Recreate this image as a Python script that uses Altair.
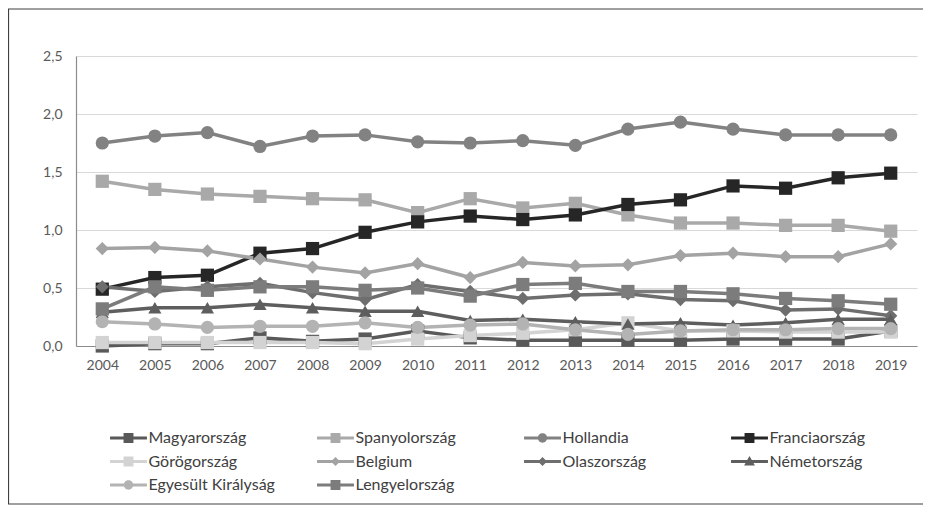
import altair as alt
import pandas as pd

years = [str(y) for y in range(2004, 2020)]

countries = ["Magyarország", "Spanyolország", "Hollandia", "Franciaország",
             "Görögország", "Belgium", "Olaszország", "Németország",
             "Egyesült Királyság", "Lengyelország"]

magyar = [0.00, 0.02, 0.02, 0.07, 0.04, 0.06, 0.13, 0.07, 0.05, 0.05, 0.05, 0.05, 0.06, 0.06, 0.06, 0.13]
spanyol = [1.42, 1.35, 1.31, 1.29, 1.27, 1.26, 1.15, 1.27, 1.19, 1.23, 1.13, 1.06, 1.06, 1.04, 1.04, 0.99]
holland = [1.75, 1.81, 1.84, 1.72, 1.81, 1.82, 1.76, 1.75, 1.77, 1.73, 1.87, 1.93, 1.87, 1.82, 1.82, 1.82]
francia = [0.49, 0.59, 0.61, 0.80, 0.84, 0.98, 1.07, 1.12, 1.09, 1.13, 1.22, 1.26, 1.38, 1.36, 1.45, 1.49]
gorog = [0.03, 0.03, 0.03, 0.03, 0.03, 0.02, 0.06, 0.09, 0.11, 0.14, 0.20, 0.13, 0.13, 0.12, 0.12, 0.12]
belgium = [0.84, 0.85, 0.82, 0.75, 0.68, 0.63, 0.71, 0.59, 0.72, 0.69, 0.70, 0.78, 0.80, 0.77, 0.77, 0.88]
olasz = [0.51, 0.47, 0.51, 0.54, 0.46, 0.40, 0.53, 0.47, 0.41, 0.44, 0.45, 0.40, 0.39, 0.31, 0.32, 0.26]
nemet = [0.29, 0.33, 0.33, 0.36, 0.33, 0.30, 0.30, 0.22, 0.23, 0.21, 0.19, 0.20, 0.18, 0.20, 0.23, 0.23]
ek = [0.21, 0.19, 0.16, 0.17, 0.17, 0.20, 0.16, 0.18, 0.19, 0.14, 0.10, 0.13, 0.14, 0.14, 0.15, 0.15]
lengyel = [0.32, 0.51, 0.48, 0.51, 0.51, 0.48, 0.50, 0.43, 0.53, 0.54, 0.47, 0.47, 0.45, 0.41, 0.39, 0.36]

series = [magyar, spanyol, holland, francia, gorog, belgium, olasz, nemet, ek, lengyel]

colors = ["#595959", "#a9a9a9", "#828282", "#262626", "#d3d3d3",
          "#a3a3a3", "#6e6e6e", "#5e5e5e", "#b3b3b3", "#7c7c7c"]
shapes = ["square", "square", "circle", "square", "square",
          "diamond", "diamond", "triangle-up", "circle", "square"]

LINE = "M-2.05,-0.17H2.05V0.17H-2.05Z"
MK = {
    "square": "M-0.55,-0.55H0.55V0.55H-0.55Z",
    "circle": "M0.52,0A0.52,0.52 0 1,1 -0.52,0A0.52,0.52 0 1,1 0.52,0Z",
    "diamond": "M0,-0.5L0.5,0L0,0.5L-0.5,0Z",
    "triangle-up": "M0,-0.6L0.6,0.45H-0.6Z",
}
legend_shapes = [LINE + " " + MK[s] for s in shapes]

rows = []
for c, vals in zip(countries, series):
    for y, v in zip(years, vals):
        rows.append({"year": y, "value": v, "country": c, "country2": c})
df = pd.DataFrame(rows)

x_enc = alt.X("year:O", scale=alt.Scale(type="point", padding=0.5),
              axis=alt.Axis(title=None, labelAngle=0, ticks=False, grid=False,
                            labelPadding=12, labelFontSize=14, labelColor="#595959",
                            labelFont="Lato", domainColor="#8c8c8c", domainWidth=1.2))
y_enc = alt.Y("value:Q", scale=alt.Scale(domain=[0, 2.5], nice=False),
              axis=alt.Axis(title=None, values=[0, 0.5, 1, 1.5, 2, 2.5], ticks=False,
                            labelExpr="replace(format(datum.value, '.1f'), '.', ',')",
                            labelPadding=14, labelFontSize=14, labelColor="#595959",
                            labelFont="Lato", gridColor="#d9d9d9", gridWidth=1.2,
                            domainColor="#8c8c8c", domainWidth=1.2))

base = alt.Chart(df)

lines = base.mark_line(strokeWidth=3.5).encode(
    x=x_enc, y=y_enc,
    color=alt.Color("country:N", scale=alt.Scale(domain=countries, range=colors), legend=None),
    detail="country:N",
)

points = base.mark_point(filled=True, opacity=1, size=175).encode(
    x=x_enc, y=y_enc,
    color=alt.Color("country:N", scale=alt.Scale(domain=countries, range=colors), legend=None),
    shape=alt.Shape("country:N", scale=alt.Scale(domain=countries, range=shapes), legend=None),
)

legend_layer = base.mark_point(filled=True, opacity=1, clip=True, size=10).encode(
    x=x_enc,
    y=alt.value(-3000),
    color=alt.Color("country2:N", scale=alt.Scale(domain=countries, range=colors),
                    legend=alt.Legend(title=None)),
    shape=alt.Shape("country2:N", scale=alt.Scale(domain=countries, range=legend_shapes),
                    legend=alt.Legend(title=None)),
)

border = alt.Chart(pd.DataFrame({"a": [0]})).mark_rect(
    fill="transparent", stroke="#404040", strokeWidth=1.2
).encode(x=alt.value(-67.5), x2=alt.value(900), y=alt.value(-47), y2=alt.value(448))

chart = alt.layer(border, lines, points, legend_layer).resolve_scale(
    color="independent", shape="independent"
).properties(
    width=841, height=290,
    autosize=alt.AutoSizeParams(type="none"),
    padding={"left": 68, "top": 48, "right": 6, "bottom": 159},
).configure_view(stroke=None).configure_legend(
    orient="none", legendX=43.5, legendY=373, direction="horizontal", columns=4,
    gridAlign="all", columnPadding=41, rowPadding=6.5, symbolSize=324,
    symbolStrokeWidth=0, symbolOpacity=1, labelOffset=11, labelFontSize=16,
    labelFont="Lato", labelColor="#404040", padding=0,
)

chart.save("out.html", embed_options={"renderer": "svg", "actions": False})
